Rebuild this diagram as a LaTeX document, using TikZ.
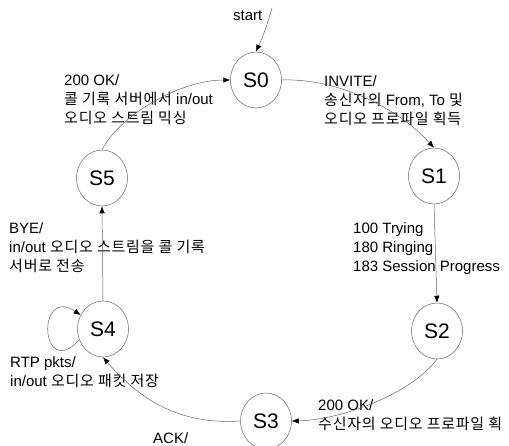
\documentclass[tikz,border=0pt]{standalone}
\usepackage{fontspec}
\setmainfont{Liberation Sans}
\newfontfamily\kr{Noto Sans CJK KR}[LetterSpace=5]
\newcommand\K[1]{{\kr #1}}
\usetikzlibrary{arrows.meta,shapes.geometric}
\begin{document}
\begin{tikzpicture}[x=1pt,y=-1pt,
  state/.style={ellipse,draw=black!60,line width=0.5pt,minimum width=51pt,minimum height=56pt,inner sep=0pt,font=\fontsize{21}{22}\selectfont},
  lbl/.style={anchor=base west,align=left,inner sep=0pt,font=\fontsize{15}{19}\selectfont},
  conn/.style={draw=black!60,line width=0.5pt,-{Latex[length=7pt,width=5.5pt,color=black]}}]
\useasboundingbox (0,0) rectangle (509,445);
\node[state] (S0) at (256,80) {S0};
\node[state] (S1) at (434,176) {S1};
\node[state] (S2) at (437,331) {S2};
\node[state] (S3) at (266,421) {S3};
\node[state] (S4) at (103,329) {S4};
\node[state] (S5) at (102,178) {S5};
\coordinate (st) at (272,8);
\node[lbl] (tstart) at (233,20) {start};
\node[lbl] (t50) at (64,123) {200 OK/\\\K{콜 기록 서버에서} in/out\\\K{오디오 스트림 믹싱}};
\node[lbl] (t01) at (324,124) {INVITE/\\\K{송신자의} From, To \K{및}\\\K{오디오 프로파일 획득}};
\node[lbl] (t12) at (353,271) {100 Trying\\180 Ringing\\183 Session Progress};
\node[lbl] (t45) at (9,271) {BYE/\\in/out \K{오디오 스트림을 콜 기록}\\\K{서버로 전송}};
\node[lbl] (t44) at (10,386) {RTP pkts/\\in/out \K{오디오 패킷 저장}};
\node[lbl] (t23) at (318,429) {200 OK/\\\K{수신자의 오디오 프로파일 획}};
\node[lbl] (t34) at (153,443) {ACK/};
\draw[conn] (st) to[bend left=4] (S0.north);
\draw[conn] (S5.north) .. controls (120,115) and (180,80) .. (S0.west);
\draw[conn] (S0.east) .. controls (340,78) and (400,110) .. (S1.north);
\draw[conn] (S1.south) -- (S2.north);
\draw[conn] (S2.south) .. controls (410,395) and (340,420) .. (S3.east);
\draw[conn] (S3.west) .. controls (180,425) and (140,400) .. (S4.south);
\draw[conn] (S4.north) -- (S5.south);
\draw[conn] (S4.205) .. controls (40,382) and (36,285) .. (S4.148);
\end{tikzpicture}
\end{document}
